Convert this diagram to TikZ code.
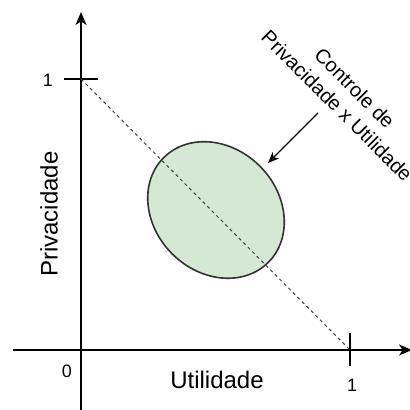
\documentclass[tikz,border=0pt]{standalone}
\usepackage{fontspec}
\setmainfont{Liberation Sans}
\usetikzlibrary{shapes.geometric, arrows.meta, positioning}
\definecolor{regfill}{HTML}{D5E8D4}
\tikzset{every node/.append style={align=center, inner sep=0pt}}

\begin{document}
\begin{tikzpicture}[
    x=0.5pt, y=0.5pt,
    ax/.style={line width=1pt, -{Stealth[length=6.5pt, width=5.5pt, inset=1.8pt]}},
    tk/.style={line width=1pt},
    lbl/.style={font=\fontsize{12}{14}\selectfont},
    num/.style={font=\fontsize{9}{11}\selectfont},
    reg/.style={ellipse, draw=black!80, fill=regfill, line width=0.8pt,
        minimum width=74pt, minimum height=62pt},
    dl/.style={dashed, dash pattern=on 1.6pt off 1.6pt, line width=0.5pt, black!75},
    a/.style={-{Stealth[length=5.5pt, width=4.5pt, inset=1.5pt]}, line width=0.6pt}
]
\useasboundingbox (0,0) rectangle (409,410);
% axes
\coordinate (o) at (81,60);
\coordinate (xs) at (13,60);
\coordinate (xe) at (412,60);
\coordinate (ys) at (81,0);
\coordinate (ye) at (81,398);
\coordinate (y1) at (81,331);
\coordinate (x1) at (350,60);
\draw[tk] (xs) -- (o);
\draw[ax] (o) -- (xe);
\draw[tk] (ys) -- (o);
\draw[ax] (o) -- (ye);
\draw[tk] (y1) +(-17,0) -- +(17,0);
\draw[tk] (x1) +(0,-16) -- +(0,17);
% region
\node[reg, rotate=-45] (region) at (216,200) {};
\draw[dl] (y1) -- (x1);
% labels
\node[num] (oney) at (48,330) {1};
\node[num] (zero) at (67,39) {0};
\node[num] (onex) at (352,25) {1};
\node[lbl] (util) at (217,30) {Utilidade};
\node[lbl, rotate=90] (priv) at (49,196) {Privacidade};
\node[font=\fontsize{10}{12.5}\selectfont, rotate=-45] (ctl) at (346,313)
    {Controle de\\Privacidade x Utilidade};
\coordinate (ctlfrom) at (318,297);
\coordinate (ctlto) at (268,247);
\draw[a] (ctlfrom) -- (ctlto);
\end{tikzpicture}
\end{document}
